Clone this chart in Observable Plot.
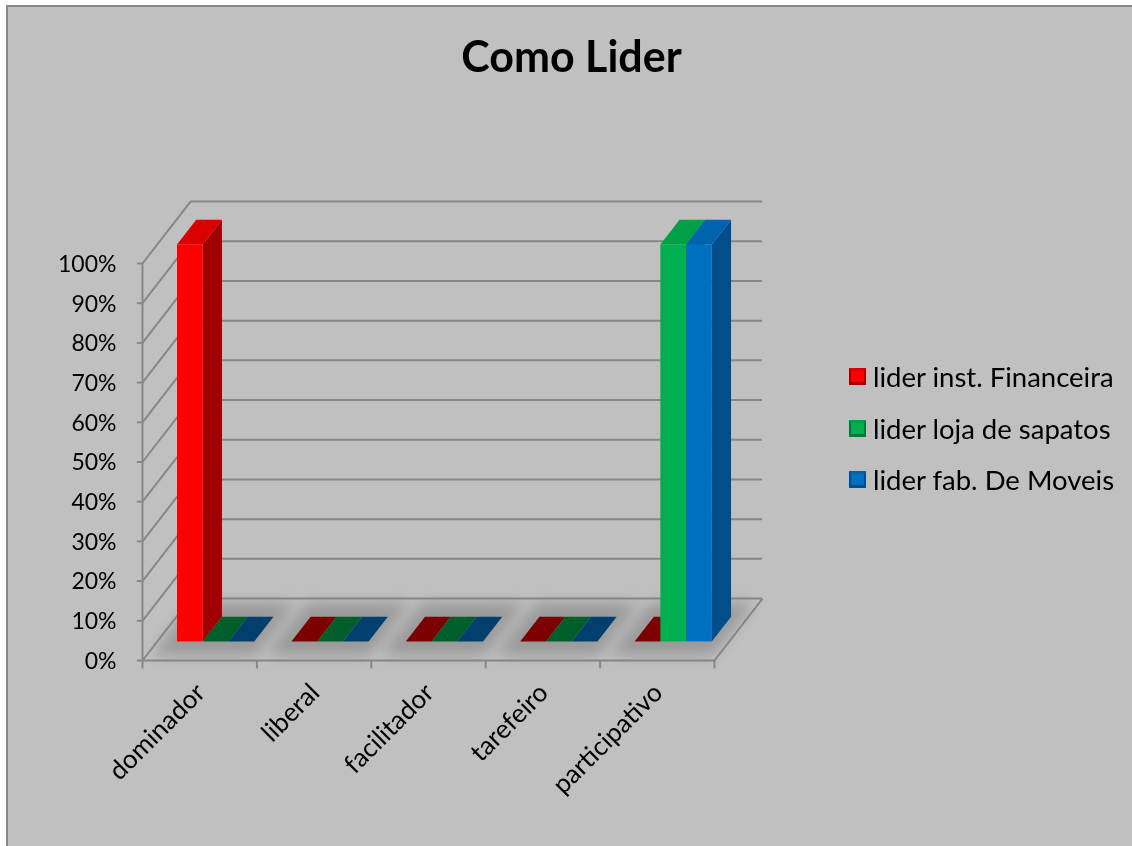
<!DOCTYPE html>
<html>
<head>
<meta charset="utf-8">
<script src="https://cdn.jsdelivr.net/npm/d3@7"></script>
<script src="https://cdn.jsdelivr.net/npm/@observablehq/plot@0.6"></script>
<style>
  html, body { margin: 0; padding: 0; background: #ffffff; overflow: hidden; }
  #frame { position: fixed; left: 6px; top: 5px; right: 0; bottom: 0; background: #c0c0c0; border-left: 2px solid #878787; border-top: 2px solid #878787; }
  #chart { position: absolute; left: 0; top: 0; }
  #title { position: absolute; left: 0; width: 1143px; top: 30px; text-align: center; font-family: Lato, sans-serif; font-weight: bold; font-size: 43px; line-height: normal; color: #000; }
  #legend { position: absolute; left: 849px; top: 351px; font-family: Lato, sans-serif; font-size: 27.5px; color: #000; }
  .item { display: flex; align-items: center; height: 51.5px; white-space: nowrap; }
  .sw { width: 17px; height: 17px; margin-right: 7px; box-sizing: border-box; flex: none; }
</style>
</head>
<body>
<div id="frame"></div>
<div id="chart"></div>
<div id="title">Como Lider</div>
<div id="legend"></div>
<script>
// ---- data ----
const categories = ["dominador", "liberal", "facilitador", "tarefeiro", "participativo"];
const seriesNames = ["lider inst. Financeira", "lider loja de sapatos", "lider fab. De Moveis"];
const financeira = [1, 0, 0, 0, 0];
const sapatos    = [0, 0, 0, 0, 1];
const moveis     = [0, 0, 0, 0, 1];
const yTicks = [0, 0.1, 0.2, 0.3, 0.4, 0.5, 0.6, 0.7, 0.8, 0.9, 1];
const yTickLabels = ["0%", "10%", "20%", "30%", "40%", "50%", "60%", "70%", "80%", "90%", "100%"];

// ---- styles ----
const frontColors = ["#ff0000", "#00b050", "#0070c0"];
const sideColors  = ["#a00000", "#007a38", "#004f8c"];
const topColors   = ["#d80000", "#00a046", "#0063ad"];
const flatColors  = ["#7c0000", "#005e2a", "#003f6e"];

// depth of the floor in data units (x: category slots, y: fraction)
const DX = 0.42, DY = 0.156;
const F0 = 0.3, F1 = 0.7;        // front/back of bars as fraction of floor depth
const groupStart = 0.18, barW = 0.225;

const valuesBySeries = [financeira, sapatos, moveis];
const bars = [];
categories.forEach((c, i) => {
  valuesBySeries.forEach((vals, j) => {
    const x1 = i + groupStart + j * barW, x2 = x1 + barW;
    bars.push({id: i * 3 + j, cat: i, s: j, x1, x2, v: vals[i]});
  });
});

const fronts = bars.filter(b => b.v > 0).map(b => ({
  x1: b.x1 + F0 * DX, x2: b.x2 + F0 * DX, y1: F0 * DY, y2: b.v + F0 * DY, fill: frontColors[b.s]
}));
const sides = bars.filter(b => b.v > 0).flatMap(b => [
  {id: b.id, x: b.x2 + F0 * DX, y1: F0 * DY, y2: b.v + F0 * DY, fill: sideColors[b.s]},
  {id: b.id, x: b.x2 + F1 * DX, y1: F1 * DY, y2: b.v + F1 * DY, fill: sideColors[b.s]}
]);
const tops = bars.flatMap(b => {
  const col = b.v > 0 ? topColors[b.s] : flatColors[b.s];
  return [
    {id: b.id, y: b.v + F0 * DY, x1: b.x1 + F0 * DX, x2: b.x2 + F0 * DX, fill: col},
    {id: b.id, y: b.v + F1 * DY, x1: b.x1 + F1 * DX, x2: b.x2 + F1 * DX, fill: col}
  ];
});
// soft shadows of each group on the floor
const shadows = categories.flatMap((c, i) => {
  const a = i + groupStart - 0.12, b = i + groupStart + 3 * barW + 0.1;
  return [
    {id: i, y: 0.08 * DY, x1: a + 0.08 * DX, x2: b + 0.08 * DX},
    {id: i, y: 0.92 * DY, x1: a + 0.92 * DX, x2: b + 0.92 * DX}
  ];
});

const grid = "#878787";
const font = "Lato, sans-serif";

const plot = Plot.plot({
  width: 1132,
  height: 846,
  style: {background: "transparent", fontFamily: font, overflow: "visible"},
  x: {domain: [0, 5], range: [142, 714], axis: null},
  y: {domain: [0, 1], range: [660, 263], axis: null},
  color: {type: "identity"},
  marks: [
    // back wall gridlines
    Plot.ruleY(yTicks, {y: d => d + DY, x1: DX, x2: 5 + DX, stroke: grid, strokeWidth: 2}),
    // left wall gridlines
    Plot.link(yTicks, {x1: 0, y1: d => d, x2: DX, y2: d => d + DY, stroke: grid, strokeWidth: 2}),
    // floor right edge and front edge
    Plot.link([5], {x1: d => d, y1: 0, x2: d => d + DX, y2: DY, stroke: grid, strokeWidth: 2}),
    Plot.ruleY([0], {x1: 0, x2: 5, stroke: grid, strokeWidth: 2}),
    // y axis line & ticks
    Plot.ruleX([0], {y1: 0, y2: 1, stroke: grid, strokeWidth: 2}),
    Plot.ruleY(yTicks, {y: d => d, x1: -0.045, x2: 0, stroke: grid, strokeWidth: 2}),
    // x ticks
    Plot.ruleX(d3.range(categories.length + 1), {x: d => d, y1: 0, y2: -0.021, stroke: grid, strokeWidth: 2}),
    // shadows
    Plot.areaX(shadows, {y: "y", x1: "x1", x2: "x2", z: "id", fill: "#7a7a7a", fillOpacity: 0.55, imageFilter: "blur(7px)"}),
    // bars
    Plot.areaY(sides, {x: "x", y1: "y1", y2: "y2", z: "id", fill: "fill"}),
    Plot.areaX(tops, {y: "y", x1: "x1", x2: "x2", z: "id", fill: "fill"}),
    Plot.rect(fronts, {x1: "x1", x2: "x2", y1: "y1", y2: "y2", fill: "fill"}),
    // y tick labels
    Plot.text(yTicks, {x: 0, y: d => d, text: (d, i) => yTickLabels[i], textAnchor: "end", dx: -26, dy: 1, fontSize: 23, fill: "#000", fontFamily: font}),
    // x labels
    Plot.text(categories, {x: (d, i) => i + 0.5, y: 0, text: d => d, rotate: -45, textAnchor: "end", dx: 1, dy: 28, fontSize: 26, fill: "#000", fontFamily: font})
  ]
});
document.getElementById("chart").appendChild(plot);

// legend
const legend = document.getElementById("legend");
seriesNames.forEach((name, j) => {
  const item = document.createElement("div");
  item.className = "item";
  const sw = document.createElement("div");
  sw.className = "sw";
  sw.style.background = frontColors[j];
  sw.style.borderTop = "3px solid " + topColors[j];
  sw.style.borderBottom = "3px solid " + sideColors[j];
  sw.style.borderLeft = "2px solid " + sideColors[j];
  sw.style.borderRight = "2px solid " + sideColors[j];
  const t = document.createElement("span");
  t.textContent = name;
  item.appendChild(sw);
  item.appendChild(t);
  legend.appendChild(item);
});
</script>
</body>
</html>
